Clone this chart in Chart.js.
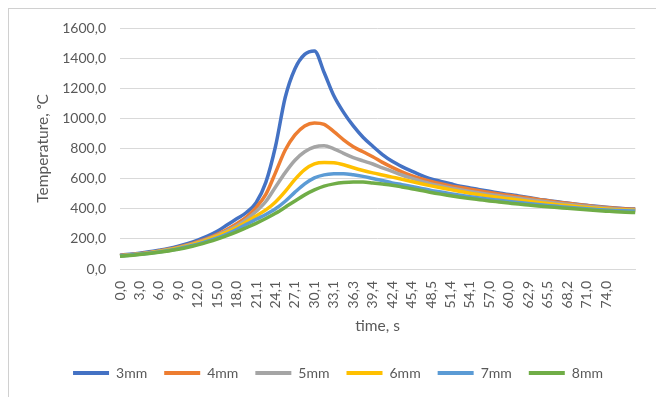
<!DOCTYPE html>
<html>
<head>
<meta charset="utf-8">
<script src="https://cdn.jsdelivr.net/npm/chart.js@4.4.1/dist/chart.umd.min.js"></script>
<style>
    html, body { margin: 0; padding: 0; background: #fff; overflow: hidden; }
    .frame {
        position: absolute; left: 8px; top: 8px;
        width: 800px; height: 600px;
        border: 1px solid #d0d0d0;
    }
    .chart-box { position: absolute; left: 0; top: 0; width: 656px; height: 397px; }
</style>
</head>
<body>
<div class="frame"></div>
<div class="chart-box"><canvas id="tempChart" width="656" height="397"></canvas></div>
<script>
// time tick labels (every second point of the series)
const TIME_TICKS = ['0,0', '3,0', '6,0', '9,0', '12,0', '15,0', '18,0', '21,1', '24,1', '27,1',
    '30,1', '33,1', '36,3', '39,4', '42,4', '45,4', '48,5', '51,4', '54,1', '57,0',
    '60,0', '62,9', '65,5', '68,2', '71,0', '74,0'];

const SERIES_NAMES = ['3mm', '4mm', '5mm', '6mm', '7mm', '8mm'];
const SERIES_COLORS = ['#4472C4', '#ED7D31', '#A5A5A5', '#FFC000', '#5B9BD5', '#70AD47'];

const T_3MM = [92, 98, 105, 114, 125, 137, 152, 170, 192, 218,
    250, 292, 333, 375, 440, 575, 815, 1140, 1330, 1425,
    1448, 1305, 1150, 1040, 950, 875, 815, 760, 715, 680,
    650, 622, 598, 582, 566, 550, 538, 527, 516, 505,
    494, 485, 475, 464, 455, 446, 438, 430, 423, 416,
    410, 405, 400, 398];
const T_4MM = [89, 95, 102, 110, 120, 131, 145, 161, 181, 204,
    230, 262, 300, 345, 408, 495, 640, 790, 890, 950,
    970, 960, 912, 858, 812, 778, 745, 708, 675, 645,
    620, 600, 582, 566, 552, 541, 530, 519, 508, 498,
    489, 480, 471, 462, 453, 444, 436, 429, 421, 414,
    408, 403, 398, 396];
const T_5MM = [88, 94, 100, 108, 118, 129, 142, 158, 177, 199,
    224, 253, 287, 330, 382, 448, 545, 640, 722, 778,
    810, 818, 798, 768, 740, 718, 697, 672, 648, 624,
    603, 583, 565, 551, 538, 526, 515, 505, 495, 486,
    478, 469, 461, 453, 445, 437, 430, 423, 416, 410,
    404, 399, 394, 392];
const T_6MM = [87, 93, 99, 107, 116, 127, 140, 155, 173, 194,
    218, 245, 275, 312, 352, 392, 445, 515, 595, 660,
    698, 707, 705, 692, 672, 654, 638, 624, 610, 596,
    581, 566, 552, 539, 527, 515, 503, 493, 483, 474,
    466, 458, 450, 442, 435, 427, 421, 415, 409, 403,
    398, 394, 391, 390];
const T_7MM = [86, 92, 98, 105, 113, 123, 135, 149, 165, 184,
    206, 232, 262, 296, 330, 362, 400, 450, 510, 565,
    605, 625, 632, 633, 626, 615, 601, 587, 572, 560,
    548, 535, 522, 511, 500, 490, 480, 471, 463, 456,
    449, 442, 435, 429, 422, 416, 410, 405, 400, 395,
    391, 388, 386, 385];
const T_8MM = [84, 90, 96, 103, 111, 120, 131, 144, 160, 178,
    198, 221, 246, 274, 303, 335, 370, 410, 452, 492,
    525, 550, 565, 574, 578, 577, 571, 564, 556, 545,
    533, 521, 508, 497, 487, 477, 468, 460, 452, 445,
    438, 431, 425, 419, 413, 408, 403, 398, 393, 388,
    384, 380, 377, 375];

const SERIES_VALUES = [T_3MM, T_4MM, T_5MM, T_6MM, T_7MM, T_8MM];

const Y_MIN = 0;
const Y_MAX = 1600;
const Y_STEP = 200;

const TEXT_COLOR = '#595959';
const GRID_COLOR = '#d9d9d9';
const FONT = 'Lato, "Open Sans", sans-serif';

// one category per data point, tick text only on every second one
const labels = T_3MM.map((_, i) => (i % 2 === 0 && TIME_TICKS[i / 2]) ? TIME_TICKS[i / 2] : '');

const datasets = SERIES_NAMES.map((name, i) => ({
    label: name,
    data: SERIES_VALUES[i],
    borderColor: SERIES_COLORS[i],
    backgroundColor: SERIES_COLORS[i],
    borderWidth: 3.5,
    pointRadius: 0,
    cubicInterpolationMode: 'monotone',
    fill: false,
    order: SERIES_NAMES.length - i   // later series drawn on top, like Excel
}));

const ctx = document.getElementById('tempChart').getContext('2d');
new Chart(ctx, {
    type: 'line',
    data: { labels: labels, datasets: datasets },
    options: {
        responsive: false,
        animation: false,
        layout: {
            padding: { left: 34, right: 14, top: 28, bottom: 7 }
        },
        plugins: {
            tooltip: { enabled: false },
            legend: {
                position: 'bottom',
                labels: {
                    color: TEXT_COLOR,
                    font: { family: FONT, size: 14 },
                    boxWidth: 36,
                    boxHeight: 4,
                    padding: 17,
                    sort: (a, b) => a.datasetIndex - b.datasetIndex,
                    generateLabels: (chart) => {
                        const items = Chart.defaults.plugins.legend.labels.generateLabels(chart);
                        items.forEach(item => { item.lineWidth = 0; });
                        return items;
                    }
                }
            }
        },
        scales: {
            x: {
                offset: false,
                grid: { display: false },
                border: { display: true, color: GRID_COLOR },
                ticks: {
                    autoSkip: false,
                    maxRotation: 90,
                    minRotation: 90,
                    padding: 4,
                    color: TEXT_COLOR,
                    font: { family: FONT, size: 14 }
                },
                title: {
                    display: true,
                    text: 'time, s',
                    color: TEXT_COLOR,
                    font: { family: FONT, size: 15.5 },
                    padding: { top: 12, bottom: 14 }
                },
                afterFit: (scale) => { scale.height = 80; }
            },
            y: {
                min: Y_MIN,
                max: Y_MAX,
                grid: { color: GRID_COLOR, drawTicks: false },
                border: { display: false },
                ticks: {
                    stepSize: Y_STEP,
                    padding: 14,
                    color: TEXT_COLOR,
                    font: { family: FONT, size: 14 },
                    callback: (value) => value.toFixed(1).replace('.', ',')
                },
                title: {
                    display: true,
                    text: 'Temperature, ᵒC',
                    color: TEXT_COLOR,
                    font: { family: FONT, size: 15.5 },
                    padding: { top: 0, bottom: 4 }
                },
                afterFit: (scale) => { scale.width = 86; }
            }
        }
    }
});
</script>
</body>
</html>
